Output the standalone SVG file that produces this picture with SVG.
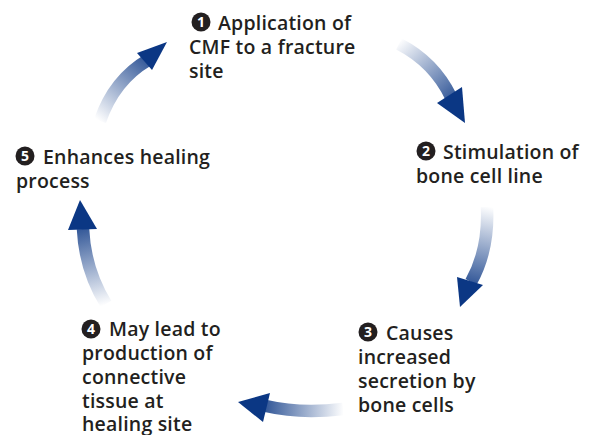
<svg xmlns="http://www.w3.org/2000/svg" width="594" height="435" viewBox="0 0 594 435">
<style>
.t{font-family:"Open Sans","Noto Sans","DejaVu Sans",sans-serif;font-weight:600;font-size:19.5px;letter-spacing:0.2px;fill:#231f20}
.n{font-family:"Open Sans","DejaVu Sans",sans-serif;font-weight:700;font-size:14px;fill:#fff;text-anchor:middle}
.c{fill:#231f20}
.b{fill:none;stroke-width:12.5}
</style>
<defs>
<linearGradient id="g1" gradientUnits="userSpaceOnUse" x1="100" y1="122" x2="160" y2="50"><stop offset="0" stop-color="#fff"/><stop offset="1" stop-color="#0b3784"/></linearGradient>
<linearGradient id="g2" gradientUnits="userSpaceOnUse" x1="398" y1="42" x2="462" y2="112"><stop offset="0" stop-color="#fff"/><stop offset="1" stop-color="#0b3784"/></linearGradient>
<linearGradient id="g3" gradientUnits="userSpaceOnUse" x1="487" y1="206" x2="466" y2="298"><stop offset="0" stop-color="#fff"/><stop offset="1" stop-color="#0b3784"/></linearGradient>
<linearGradient id="g4" gradientUnits="userSpaceOnUse" x1="344" y1="408" x2="250" y2="405"><stop offset="0" stop-color="#fff"/><stop offset="1" stop-color="#0b3784"/></linearGradient>
<linearGradient id="g5" gradientUnits="userSpaceOnUse" x1="106" y1="305" x2="82" y2="212"><stop offset="0" stop-color="#fff"/><stop offset="1" stop-color="#0b3784"/></linearGradient>
</defs>
<rect width="594" height="435" fill="#fff"/>
<g id="connectors">
<path class="b" stroke="url(#g1)" d="M100,121 Q114,80 148,60"/>
<polygon fill="#0b3784" points="167,42 137,53 152,70"/>
<path class="b" stroke="url(#g2)" d="M399,44 Q434,62 451,97"/>
<polygon fill="#0b3784" points="465,123 437,103 462,87"/>
<path class="b" stroke="url(#g3)" d="M487,207 Q489,250 471,282"/>
<polygon fill="#0b3784" points="460,307 457,277 483,285"/>
<path class="b" stroke="url(#g4)" d="M343,409 Q300,414 266,406"/>
<polygon fill="#0b3784" points="238,402 270,393 263,422"/>
<path class="b" stroke="url(#g5)" d="M106,304 Q85,270 83,229"/>
<polygon fill="#0b3784" points="80,200 68,230 97,229"/>
</g>
<g id="node1">
<circle class="c" cx="201" cy="22" r="9.5"/><text class="n" x="201" y="27">1</text>
<text class="t" x="218" y="29.5">Application of</text>
<text class="t" x="189" y="54">CMF to a fracture</text>
<text class="t" x="189" y="78">site</text>
</g>
<g id="node2">
<circle class="c" cx="426" cy="151" r="9.5"/><text class="n" x="426" y="156">2</text>
<text class="t" x="443" y="158.5">Stimulation of</text>
<text class="t" x="416" y="182.5">bone cell line</text>
</g>
<g id="node3">
<circle class="c" cx="368" cy="332" r="9.5"/><text class="n" x="368" y="337">3</text>
<text class="t" x="386" y="339.5">Causes</text>
<text class="t" x="358" y="363.5">increased</text>
<text class="t" x="358" y="387.5">secretion by</text>
<text class="t" x="358" y="411.5">bone cells</text>
</g>
<g id="node4">
<circle class="c" cx="91" cy="329" r="9.5"/><text class="n" x="91" y="334">4</text>
<text class="t" x="109" y="336">May lead to</text>
<text class="t" x="82" y="360">production of</text>
<text class="t" x="82" y="384">connective</text>
<text class="t" x="82" y="407.5">tissue at</text>
<text class="t" x="82" y="430.5">healing site</text>
</g>
<g id="node5">
<circle class="c" cx="25" cy="156" r="9.5"/><text class="n" x="25" y="161">5</text>
<text class="t" x="43" y="163.5">Enhances healing</text>
<text class="t" x="16" y="187.5">process</text>
</g>
</svg>
